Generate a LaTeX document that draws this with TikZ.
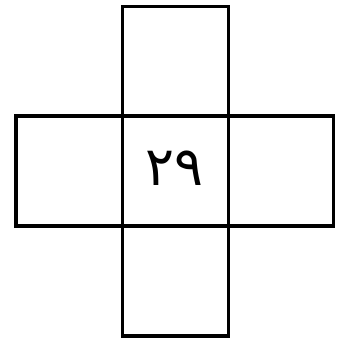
\documentclass[tikz,border=0pt]{standalone}
\usepackage{fontspec}
\newfontfamily\arabicfont[Script=Arabic]{DejaVu Sans}
\begin{document}
\begin{tikzpicture}[x=1pt,y=-1pt,cell/.style={draw=black,line width=3.6pt}]
\useasboundingbox (0,0) rectangle (338,338);
\draw[cell] (122.5,6.3) rectangle (228.3,116);
\draw[cell] (15.7,116) rectangle (122.5,226);
\draw[cell] (122.5,116) rectangle (228.3,226);
\draw[cell] (228.3,116) rectangle (333.3,226);
\draw[cell] (122.5,226) rectangle (228.3,336);
\node[font=\arabicfont\fontsize{54}{60}\selectfont,inner sep=0pt] (num) at (174.5,168) {٢٩};
\end{tikzpicture}
\end{document}
